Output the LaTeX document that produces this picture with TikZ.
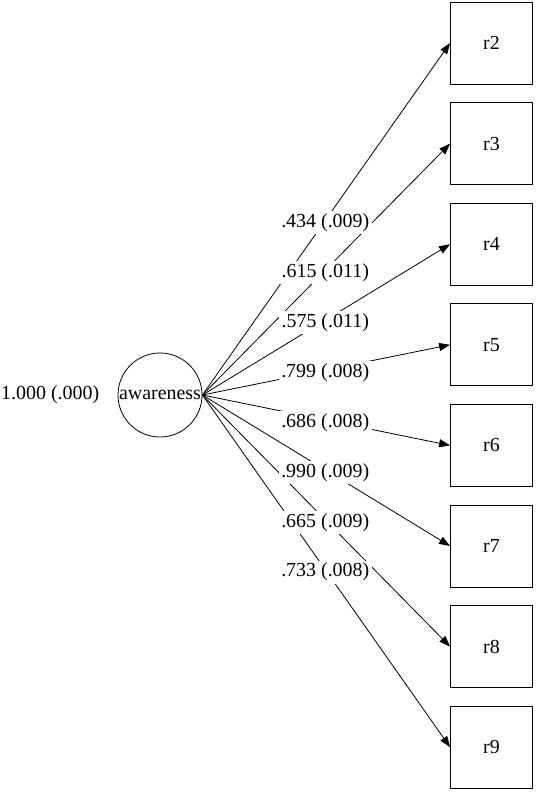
\documentclass[tikz,border=0pt]{standalone}
\usepackage{fontspec}
\setmainfont{Liberation Serif}
\usetikzlibrary{arrows.meta,positioning}

\begin{document}
\begin{tikzpicture}[
  x=1bp, y=-1bp,
  node distance=17.8bp,
  font=\fontsize{20}{24}\selectfont,
  line width=0.8bp,
  obs/.style={draw, minimum size=82bp, inner sep=0pt},
  lat/.style={draw, circle, minimum size=84bp, inner sep=0pt},
  lbl/.style={fill=white, inner sep=2.5bp, yshift=-2.5bp},
  >={Triangle[length=11bp, width=8bp]}]
\useasboundingbox (0,0) rectangle (536,792);
\node[lat] (aw) at (160,395) {awareness};
\node[inner sep=0pt, left=18bp of aw] (var) {1.000 (.000)};
\node[obs] (r2) at (491.5,43) {r2};
\node[obs, below=of r2] (r3) {r3};
\node[obs, below=of r3] (r4) {r4};
\node[obs, below=of r4] (r5) {r5};
\node[obs, below=of r5] (r6) {r6};
\node[obs, below=of r6] (r7) {r7};
\node[obs, below=of r7] (r8) {r8};
\node[obs, below=of r8] (r9) {r9};
% loadings: lines first, labels on top
\draw[->] (aw.east) -- coordinate[pos=.496] (m2) (r2.west);
\draw[->] (aw.east) -- coordinate[pos=.496] (m3) (r3.west);
\draw[->] (aw.east) -- coordinate[pos=.496] (m4) (r4.west);
\draw[->] (aw.east) -- coordinate[pos=.496] (m5) (r5.west);
\draw[->] (aw.east) -- coordinate[pos=.496] (m6) (r6.west);
\draw[->] (aw.east) -- coordinate[pos=.496] (m7) (r7.west);
\draw[->] (aw.east) -- coordinate[pos=.496] (m8) (r8.west);
\draw[->] (aw.east) -- coordinate[pos=.496] (m9) (r9.west);
\node[lbl] (l2) at (m2) {.434 (.009)};
\node[lbl] (l3) at (m3) {.615 (.011)};
\node[lbl] (l4) at (m4) {.575 (.011)};
\node[lbl] (l5) at (m5) {.799 (.008)};
\node[lbl] (l6) at (m6) {.686 (.008)};
\node[lbl] (l7) at (m7) {.990 (.009)};
\node[lbl] (l8) at (m8) {.665 (.009)};
\node[lbl] (l9) at (m9) {.733 (.008)};
\end{tikzpicture}
\end{document}
